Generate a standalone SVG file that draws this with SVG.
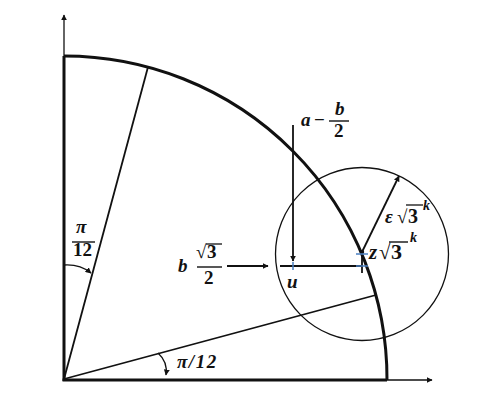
<svg xmlns="http://www.w3.org/2000/svg" width="485" height="404" viewBox="0 0 485 404">
<style>
.t{font-family:"Liberation Serif",serif;font-weight:bold;font-style:italic;font-size:19px;fill:#111}
.n{font-family:"Liberation Serif",serif;font-weight:bold;font-size:19px;fill:#111}
.thick{stroke:#111;stroke-width:3;fill:none}
.thin{stroke:#111;stroke-width:1.3;fill:none}
.med{stroke:#111;stroke-width:1.8;fill:none}
.blue{stroke:#4a7fc0;stroke-width:1.5}
.bar{stroke:#111;stroke-width:1.4}
</style>
<defs>
<marker id="ah" viewBox="0 0 10 10" refX="9" refY="5" markerWidth="6" markerHeight="6" orient="auto" markerUnits="userSpaceOnUse">
<path d="M0,0 L10,5 L0,10 z" fill="#111"/>
</marker>
</defs>
<g id="axes">
<line class="thin" x1="64" y1="380" x2="64" y2="15" marker-end="url(#ah)"/>
<line class="thin" x1="64" y1="380" x2="432" y2="380" marker-end="url(#ah)"/>
<line class="thick" x1="64" y1="381" x2="64" y2="56"/>
<line class="thick" x1="62.5" y1="380" x2="387" y2="380"/>
</g>
<g id="arc">
<path class="thick" d="M64,56 A323,323 0 0 1 387,380"/>
</g>
<g id="connectors">
<line class="med" x1="64" y1="379" x2="148" y2="67"/>
<line class="med" x1="64" y1="379" x2="376" y2="295"/>
<line class="med" x1="362" y1="252" x2="399" y2="176" marker-end="url(#ah)"/>
<line class="med" x1="293" y1="125" x2="293" y2="261" marker-end="url(#ah)"/>
<line class="med" x1="227" y1="266" x2="268" y2="266" marker-end="url(#ah)"/>
<line class="thick" x1="280" y1="266" x2="362" y2="266" style="stroke-width:2"/>
<line class="med" x1="362" y1="254" x2="362" y2="273"/>
<path class="thin" d="M64,265 Q80,264 91,273" marker-end="url(#ah)"/>
<path class="thin" d="M158,353 Q168,362 166,375" marker-end="url(#ah)"/>
</g>
<g id="circle">
<circle class="thin" cx="362" cy="254" r="86.5"/>
</g>
<g id="points">
<circle cx="362" cy="252" r="2.2" fill="#111"/>
<line class="blue" x1="356" y1="254" x2="368" y2="254"/>
<line class="blue" x1="356" y1="266" x2="368" y2="266"/>
<line class="blue" x1="293" y1="262" x2="293" y2="270"/>
</g>
<g id="label-a-b2">
<text class="t" x="301" y="126">a</text>
<text class="n" x="314" y="126">−</text>
<text class="t" x="335" y="115">b</text>
<line class="bar" x1="329" y1="121" x2="349" y2="121"/>
<text class="n" x="334" y="137">2</text>
</g>
<g id="label-b-sqrt3-2">
<text class="t" x="178" y="272">b</text>
<text class="n" x="196" y="258">√</text>
<line x1="206" y1="244" x2="222" y2="244" stroke="#111" stroke-width="1.3"/>
<text class="n" x="207" y="258">3</text>
<line class="bar" x1="197" y1="267" x2="222" y2="267"/>
<text class="n" x="204" y="284">2</text>
</g>
<g id="label-u">
<text class="t" x="287" y="288">u</text>
</g>
<g id="label-z">
<text class="t" x="369" y="259" style="font-size:21px">z</text>
<text class="n" x="379" y="259" style="font-size:21px">√</text>
<line x1="389" y1="242" x2="408" y2="242" stroke="#111" stroke-width="1.4"/>
<text class="n" x="391" y="259" style="font-size:22px">3</text>
<text class="t" x="410" y="242" style="font-size:14px">k</text>
</g>
<g id="label-eps">
<text class="t" x="385" y="223">ε</text>
<text class="n" x="397" y="223">√</text>
<line x1="406" y1="205" x2="423" y2="205" stroke="#111" stroke-width="1.3"/>
<text class="n" x="408" y="223" style="font-size:20px">3</text>
<text class="t" x="423" y="210" style="font-size:14px">k</text>
</g>
<g id="label-pi12-left">
<text class="t" x="76" y="233">π</text>
<line class="bar" x1="72" y1="242" x2="95" y2="242"/>
<text class="n" x="73" y="256">12</text>
</g>
<g id="label-pi12-bottom">
<text class="t" x="177" y="368" style="letter-spacing:1.5px">π/12</text>
</g>
</svg>
